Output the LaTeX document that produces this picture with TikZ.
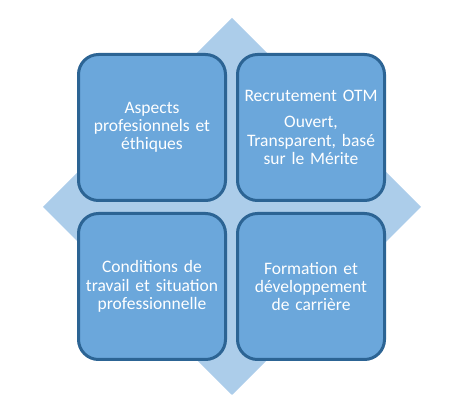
\documentclass[tikz,border=0pt]{standalone}
\usepackage{fontspec}
\setmainfont{Carlito}
\definecolor{boxfill}{HTML}{6BA7DB}
\definecolor{boxline}{HTML}{2C6494}
\definecolor{diafill}{HTML}{ACCDEA}
\begin{document}
\begin{tikzpicture}[x=1pt,y=1pt,
  quad/.style={draw=boxline, fill=boxfill, line width=3pt, rounded corners=20pt,
    minimum width=147pt, minimum height=146pt, inner sep=0pt, text width=140pt,
    align=center, text=white, font=\fontsize{17.5}{18.3}\selectfont}]
\useasboundingbox (0,0) rectangle (467,415);
\fill[diafill] (232,397) coordinate (dtop) -- (421,208) coordinate (dright)
  -- (232,20) coordinate (dbottom) -- (43,208) coordinate (dleft) -- cycle;
\node[quad] (tl) at (152,287.5) {Aspects\\ profesionnels et\\ éthiques};
\node[quad] (tr) at (311,287.5) {Recrutement OTM\\[8pt] Ouvert,\\ Transparent, basé\\ sur le Mérite};
\node[quad] (bl) at (152,128.5) {Conditions de\\ travail et situation\\ professionnelle};
\node[quad] (br) at (311,128.5) {Formation et\\ développement\\ de carrière};
\end{tikzpicture}
\end{document}
